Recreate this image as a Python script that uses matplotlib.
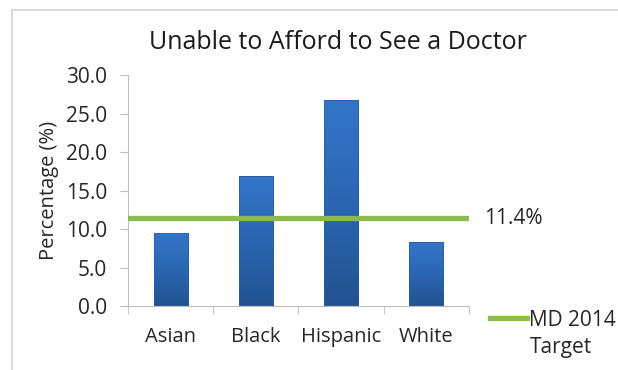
import numpy as np
import matplotlib.pyplot as plt
from matplotlib.patches import Rectangle
from matplotlib.colors import LinearSegmentedColormap

plt.rcParams['font.family'] = ['Open Sans', 'DejaVu Sans']

groups = ['Asian', 'Black', 'Hispanic', 'White']
pct_unable = [9.5, 16.9, 26.8, 8.3]
md_target = 11.4
y_ticks = [0, 5, 10, 15, 20, 25, 30]

txt = '#262626'

fig = plt.figure(figsize=(6.18, 3.7), dpi=100)
ax = fig.add_axes([0.207, 0.173, 0.552, 0.624])

x = range(len(groups))
bars = ax.bar(x, pct_unable, width=0.4, color='none', edgecolor='#2A5C9E', linewidth=0.5, zorder=2)

# vertical gradient fill for each bar (lighter on top)
blues = LinearSegmentedColormap.from_list('bar_grad', ['#22538F', '#2B66B2', '#3475C8'])
grad = np.linspace(0, 1, 256).reshape(-1, 1)
for b in bars:
    im = ax.imshow(grad, cmap=blues, origin='lower', aspect='auto', zorder=1.9,
                   extent=[b.get_x(), b.get_x() + b.get_width(), 0, b.get_height()])
    im.set_clip_path(b)

ax.axhline(md_target, color='#8DBB4F', linewidth=3.8, zorder=3, label='MD 2014')

ax.set_xlim(-0.5, len(groups) - 0.5)
ax.set_ylim(0, 30)
ax.set_yticks(y_ticks)
ax.set_yticklabels([f'{v:.1f}' for v in y_ticks], fontsize=15, color=txt)

ax.set_xticks(list(x))
ax.set_xticklabels(groups, fontsize=14.5, color=txt)
ax.tick_params(axis='x', length=0, pad=15)
ax.set_xticks([i - 0.5 for i in range(len(groups) + 1)], minor=True)
ax.tick_params(axis='x', which='minor', length=6, color='#BFBFBF', direction='out')
ax.tick_params(axis='y', length=6, color='#BFBFBF', direction='out', pad=9)

for side in ['top', 'right']:
    ax.spines[side].set_visible(False)
for side in ['left', 'bottom']:
    ax.spines[side].set_color('#BFBFBF')

ax.set_ylabel('Percentage (%)', fontsize=14.5, color=txt, labelpad=5)
fig.text(0.547, 0.885, 'Unable to Afford to See a Doctor', fontsize=18, color='#1A1A1A',
         ha='center', va='center')

ax.annotate(f'{md_target}%', xy=(1, md_target), xycoords=('axes fraction', 'data'),
            xytext=(11, 0), textcoords='offset points', va='center', ha='left',
            fontsize=15, color=txt)

leg = fig.legend(loc='center left', bbox_to_anchor=(0.793, 0.135), frameon=False,
                 fontsize=15, handlelength=1.75, handletextpad=0.1, borderpad=0,
                 borderaxespad=0)
for t in leg.get_texts():
    t.set_color(txt)
fig.text(0.857, 0.062, 'Target', fontsize=15, color=txt, ha='left', va='center')

fig.patches.append(Rectangle((12 / 618, -0.1), 1.2, 1.1 - 10 / 370, transform=fig.transFigure,
                             fill=False, edgecolor='#D3D3D3', linewidth=1.2))

fig.savefig('out.png', dpi=100)
